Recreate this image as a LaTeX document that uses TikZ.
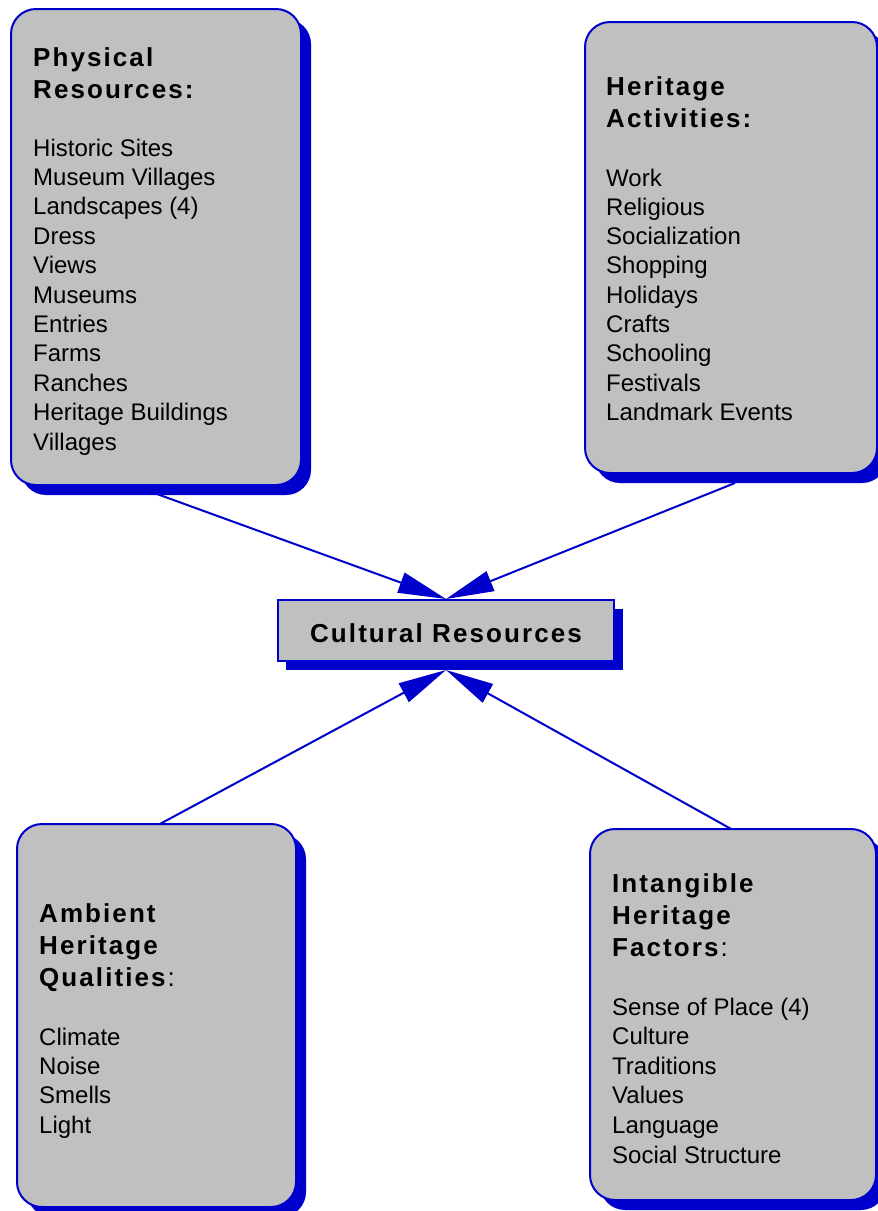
\documentclass[tikz,border=0pt]{standalone}
\usepackage{fontspec}
\setmainfont{Liberation Sans}
\newfontfamily\ttlfont[LetterSpace=8]{Liberation Sans}
\usetikzlibrary{arrows.meta}
\definecolor{bblue}{RGB}{0,0,204}
\definecolor{boxgray}{RGB}{192,192,192}
\begin{document}
\begin{tikzpicture}[x=1pt,y=-1pt,
  shadowfill/.style={fill=bblue, draw=none},
  card/.style={fill=boxgray, draw=bblue, line width=2pt},
  body/.style={anchor=base west, inner sep=0pt, font=\fontsize{24}{29}\selectfont},
  ttl/.style={anchor=base west, inner sep=0pt, font=\ttlfont\bfseries\fontsize{26}{30}\selectfont},
  link/.style={draw=bblue, line width=2pt, -{Triangle[length=48pt,width=21pt]}}]
\useasboundingbox (0,0) rectangle (878,1211);

% central box
\fill[shadowfill] (286,609) rectangle (623,670);
\draw[card] (278,600) rectangle (614,661);
\node[anchor=base, inner sep=0pt, font=\ttlfont\bfseries\fontsize{26}{30}\selectfont] (cult) at (446,642) {Cultural Resources};
\coordinate (ctop) at (446,599);
\coordinate (cbot) at (446,670);

% connector start points
\coordinate (pb) at (157,494);
\coordinate (hb) at (735,483);
\coordinate (at) at (158,825);
\coordinate (it) at (733,830);

\draw[link] (pb) -- (ctop);
\draw[link] (hb) -- (ctop);
\draw[link] (at) -- (cbot);
\draw[link] (it) -- (cbot);

% Physical Resources
\fill[shadowfill, rounded corners=25pt] (21,19) rectangle (311,495);
\draw[card, rounded corners=25pt] (11,9) rectangle (301,485);
\node[ttl] (p1) at (33,66) {Physical};
\node[ttl] (p2) at (33,98) {Resources:};
\foreach \t [count=\i] in {Historic Sites,Museum Villages,Landscapes (4),Dress,Views,Museums,Entries,Farms,Ranches,Heritage Buildings,Villages}
  \node[body] (pl\i) at (33,{156+29.4*(\i-1)}) {\t};

% Heritage Activities
\fill[shadowfill, rounded corners=25pt] (595,32) rectangle (887,483);
\draw[card, rounded corners=25pt] (585,22) rectangle (877,473);
\node[ttl] (h1) at (606,95) {Heritage};
\node[ttl] (h2) at (606,127) {Activities:};
\foreach \t [count=\i] in {Work,Religious,Socialization,Shopping,Holidays,Crafts,Schooling,Festivals,Landmark Events}
  \node[body] (hl\i) at (606,{186+29.3*(\i-1)}) {\t};

% Ambient Heritage Qualities
\fill[shadowfill, rounded corners=25pt] (27,834) rectangle (306,1217);
\draw[card, rounded corners=25pt] (17,824) rectangle (296,1207);
\node[ttl] (a1) at (39,922) {Ambient};
\node[ttl] (a2) at (39,954) {Heritage};
\node[ttl] (a3) at (39,986) {Qualities\textmd{\addfontfeature{LetterSpace=0}:}};
\foreach \t [count=\i] in {Climate,Noise,Smells,Light}
  \node[body] (al\i) at (39,{1045+29.4*(\i-1)}) {\t};

% Intangible Heritage Factors
\fill[shadowfill, rounded corners=25pt] (600,839) rectangle (886,1210);
\draw[card, rounded corners=25pt] (590,829) rectangle (876,1200);
\node[ttl] (i1) at (612,892) {Intangible};
\node[ttl] (i2) at (612,924) {Heritage};
\node[ttl] (i3) at (612,956) {Factors\textmd{\addfontfeature{LetterSpace=0}:}};
\foreach \t [count=\i] in {Sense of Place (4),Culture,Traditions,Values,Language,Social Structure}
  \node[body] (il\i) at (612,{1015+29.6*(\i-1)}) {\t};
\end{tikzpicture}
\end{document}
